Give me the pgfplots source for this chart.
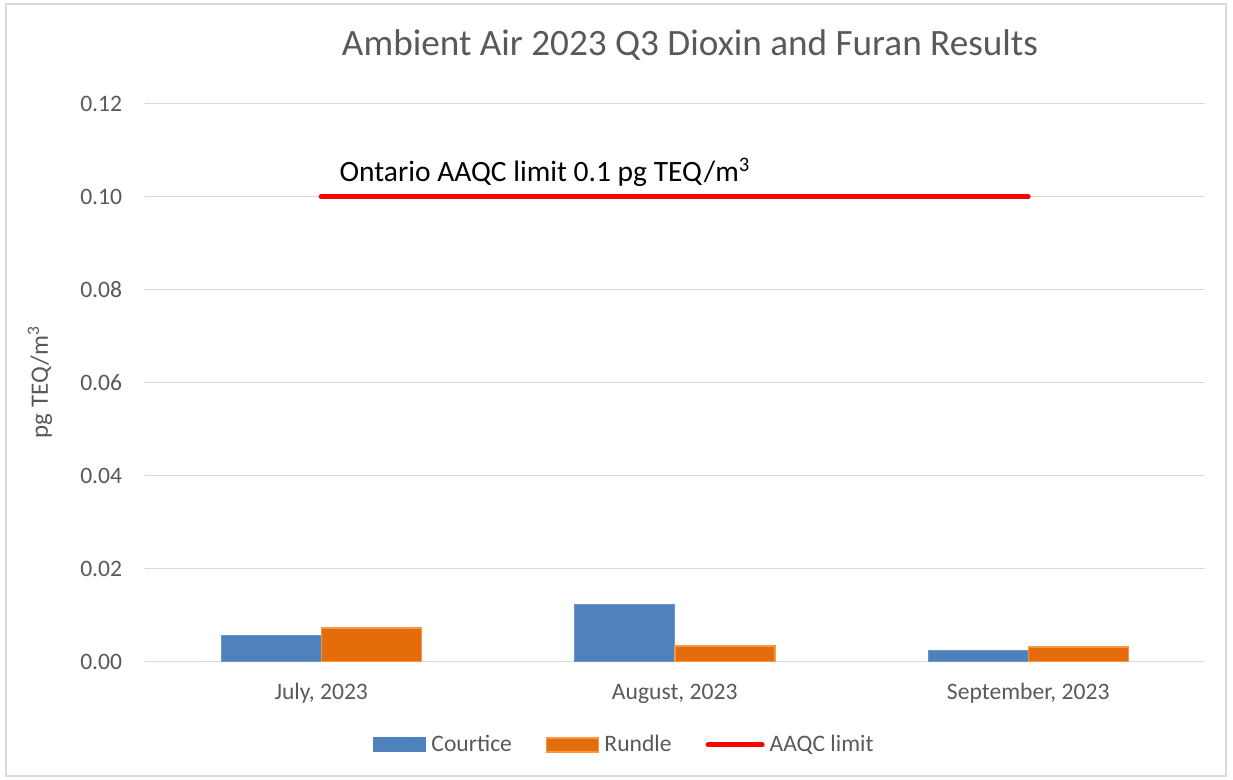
\documentclass[border=0pt]{standalone}
\usepackage{pgfplots}
\pgfplotsset{compat=1.18}
\usepackage{pgfplotstable}
\usepackage{fontspec}
\setmainfont{Carlito}
\definecolor{txtgray}{HTML}{595959}
\definecolor{gridgray}{HTML}{D9D9D9}
\definecolor{cblue}{HTML}{4F81BD}
\definecolor{cblueedge}{HTML}{6A93C8}
\definecolor{corange}{HTML}{E46C0A}
\definecolor{corangeedge}{HTML}{F79646}

\pgfplotstableread{
x C R L
0 0.0057 0.0072 0.1
1 0.0122 0.0034 0.1
2 0.0025 0.0032 0.1
}\data

\begin{document}
\begin{tikzpicture}
\path[use as bounding box] (0,0) rectangle (616.5pt,390pt);
\draw[gridgray, line width=0.75pt] (3pt,2pt) rectangle (613pt,388pt);
\begin{axis}[
 at={(72.25pt,59.15pt)}, anchor=south west,
 scale only axis, width=530.25pt, height=278.95pt,
 xmin=-0.5, xmax=2.5, ymin=0, ymax=0.12,
 xtick={0,1,2}, xticklabels={{July, 2023},{August, 2023},{September, 2023}},
 ytick={0,0.02,0.04,0.06,0.08,0.1,0.12},
 ymajorgrids, major grid style={gridgray, line width=0.7pt},
 axis line style={draw=none}, major tick length=0pt,
 tick label style={font=\fontsize{11.8}{14}\selectfont, text=txtgray},
 xticklabel style={anchor=base, yshift=-19pt},
 yticklabel style={anchor=east, inner sep=0pt, xshift=-11pt, /pgf/number format/.cd, fixed, fixed zerofill, precision=2, assume math mode=true},
 clip=false,
 legend style={at={(0.4526,-0.1493)}, anchor=center, draw=none, fill=none,
   legend columns=3, font=\fontsize{11.8}{14}\selectfont, text=txtgray,
   /tikz/every even column/.append style={column sep=16pt},
   /tikz/every odd column/.append style={column sep=1.5pt},
   nodes={inner sep=1pt}},
]
\addplot[ybar, bar width=0.283, bar shift=-0.1415, fill=cblue, draw=cblueedge, line width=0.5pt,
  legend image code/.code={\draw[fill=cblue, draw=cblue] (0pt,-3.5pt) rectangle (26pt,3.5pt);}]
  table[x=x,y=C]{\data};
\addlegendentry{Courtice}
\addplot[ybar, bar width=0.283, bar shift=0.1415, fill=corange, draw=corangeedge, line width=0.75pt,
  legend image code/.code={\draw[fill=corange, draw=corangeedge, line width=0.75pt] (0pt,-3.5pt) rectangle (26pt,3.5pt);}]
  table[x=x,y=R]{\data};
\addlegendentry{Rundle}
\addplot[red, line width=2.5pt, line cap=round, mark=none,
  legend image code/.code={\draw[red, line width=2.5pt, line cap=round] (0pt,0pt) -- (27pt,0pt);}]
  table[x=x,y=L]{\data};
\addlegendentry{AAQC limit}
\node[font=\fontsize{14.75}{18}\selectfont, anchor=center] at (axis cs:0.633,0.1053) {Ontario AAQC limit 0.1 pg TEQ/m\textsuperscript{3}};
\end{axis}
\node[rotate=90, font=\fontsize{12.5}{15}\selectfont, text=txtgray] at (20pt,199pt) {pg TEQ/m\textsuperscript{3}};
\node[font=\fontsize{18.6}{22}\selectfont, text=txtgray] at (345pt,367.5pt) {Ambient Air 2023 Q3 Dioxin and Furan Results};
\end{tikzpicture}
\end{document}
